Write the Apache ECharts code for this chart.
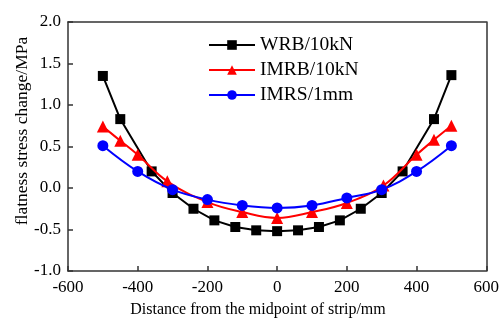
<!DOCTYPE html>
<html>
<head>
<meta charset="utf-8">
<script src="https://cdn.jsdelivr.net/npm/echarts@6/dist/echarts.min.js"></script>
<style>html,body{margin:0;padding:0;background:#fff}#c{width:502px;height:323px}</style>
</head>
<body>
<div id="c"></div>
<script>
// Data
const wrbX = [-500, -450, -360, -300, -240, -180, -120, -60, 0, 60, 120, 180, 240, 300, 360, 450, 500];
const wrbY = [1.35, 0.83, 0.20, -0.06, -0.25, -0.39, -0.47, -0.51, -0.52, -0.51, -0.47, -0.39, -0.25, -0.06, 0.20, 0.83, 1.36];
const imrbX = [-500, -450, -400, -315, -200, -100, 0, 100, 200, 305, 400, 450, 500];
const imrbY = [0.74, 0.57, 0.40, 0.08, -0.17, -0.29, -0.36, -0.29, -0.18, 0.03, 0.40, 0.58, 0.75];
const imrsX = [-500, -400, -300, -200, -100, 0, 100, 200, 300, 400, 500];
const imrsY = [0.51, 0.20, -0.02, -0.14, -0.21, -0.24, -0.21, -0.12, -0.02, 0.20, 0.51];
const seriesNames = ['WRB/10kN', 'IMRB/10kN', 'IMRS/1mm'];
const xTitle = 'Distance from the midpoint of strip/mm';
const yTitle = 'flatness stress change/MPa';

const pair = (xs, ys) => xs.map((x, i) => [x, ys[i]]);
const font = 'Liberation Serif';
const chart = echarts.init(document.getElementById('c'), null, {renderer: 'canvas'});
const axisLine = {show: true, onZero: false, lineStyle: {color: '#333', width: 1.5}};
chart.setOption({
  animation: false,
  backgroundColor: '#fff',
  grid: {left: 68, right: 14, top: 22, bottom: 52, show: false},
  legend: {
    left: 203, top: 30, orient: 'vertical', itemWidth: 46, itemHeight: 12, itemGap: 5,
    textStyle: {fontFamily: font, fontSize: 19.5, color: '#000'},
    data: seriesNames
  },
  xAxis: [{
    type: 'value', min: -600, max: 600, interval: 200,
    axisLine: axisLine,
    axisTick: {show: true, inside: true, length: 5, lineStyle: {color: '#333', width: 1.5}},
    axisLabel: {fontFamily: font, fontSize: 17, color: '#000', margin: 8},
    splitLine: {show: false}
  }, {
    type: 'value', position: 'top', min: -600, max: 600, interval: 200,
    axisLine: axisLine, axisTick: {show: false}, axisLabel: {show: false}, splitLine: {show: false}
  }],
  yAxis: [{
    type: 'value', min: -1, max: 2, interval: 0.5,
    axisLine: axisLine,
    axisTick: {show: true, inside: true, length: 5, lineStyle: {color: '#333', width: 1.5}},
    axisLabel: {fontFamily: font, fontSize: 17, color: '#000', margin: 7, formatter: v => v.toFixed(1)},
    splitLine: {show: false}
  }, {
    type: 'value', position: 'right', min: -1, max: 2, interval: 0.5,
    axisLine: axisLine, axisTick: {show: false}, axisLabel: {show: false}, splitLine: {show: false}
  }],
  graphic: [
    {type: 'text', x: 258, y: 310, style: {text: xTitle, fontFamily: font, fontSize: 16, fill: '#000', textAlign: 'center', textVerticalAlign: 'middle'}},
    {type: 'text', x: 22, y: 131, rotation: Math.PI / 2, style: {text: yTitle, fontFamily: font, fontSize: 17.5, fill: '#000', textAlign: 'center', textVerticalAlign: 'middle'}}
  ],
  series: [
    {name: seriesNames[0], type: 'line', data: pair(wrbX, wrbY), smooth: false, symbol: 'rect', symbolSize: 10,
     itemStyle: {color: '#000'}, lineStyle: {color: '#000', width: 2}, z: 3},
    {name: seriesNames[1], type: 'line', data: pair(imrbX, imrbY), smooth: 0.4, symbol: 'triangle', symbolSize: 12,
     itemStyle: {color: '#ff0000'}, lineStyle: {color: '#ff0000', width: 2}, z: 4},
    {name: seriesNames[2], type: 'line', data: pair(imrsX, imrsY), smooth: 0.4, symbol: 'circle', symbolSize: 11,
     itemStyle: {color: '#0000ff'}, lineStyle: {color: '#0000ff', width: 2}, z: 5}
  ]
});
</script>
</body>
</html>
